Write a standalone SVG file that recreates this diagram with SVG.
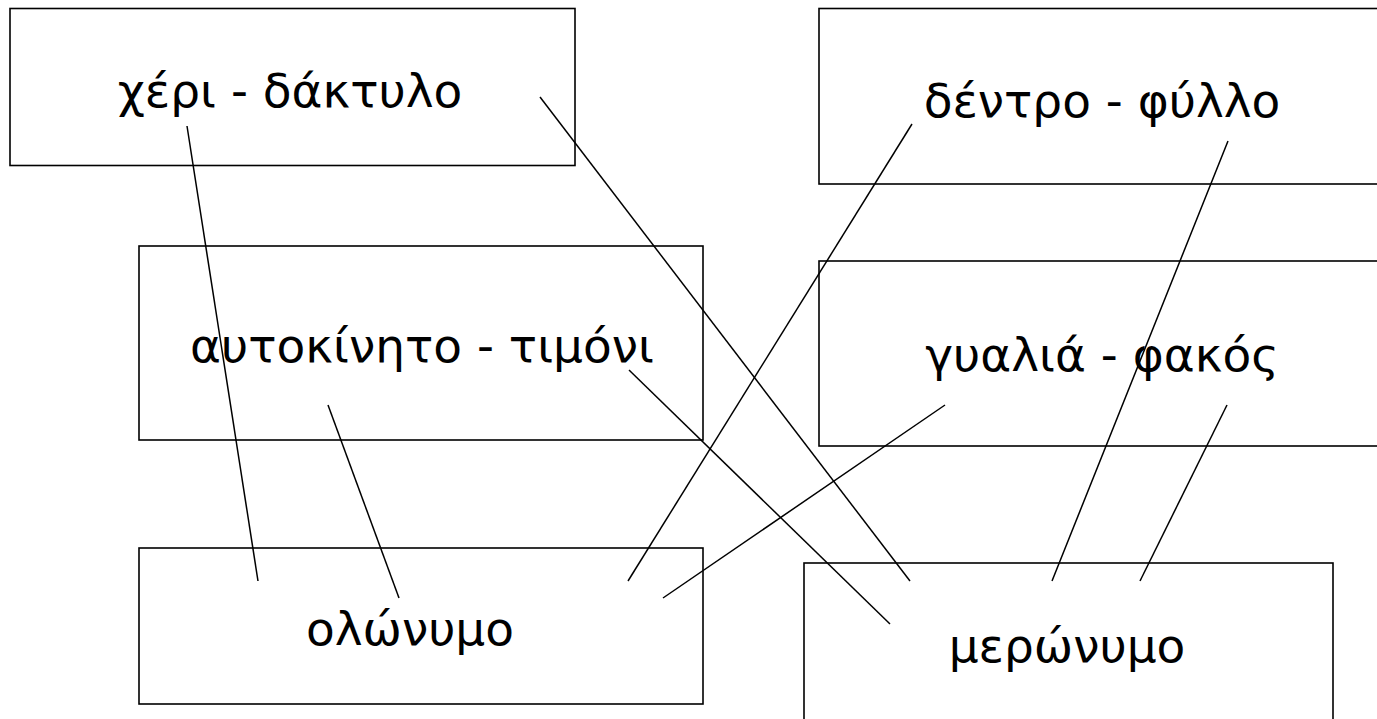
<svg xmlns="http://www.w3.org/2000/svg" width="1377" height="719" viewBox="0 0 1377 719">
<style>
.box{fill:#fff;stroke:#000;stroke-width:1.6}
.lbl{font-family:"DejaVu Sans",sans-serif;font-size:47px;fill:#000;text-anchor:middle}
.con line{stroke:#000;stroke-width:1.5}
</style>
<rect width="1377" height="719" fill="#fff"/>
<g id="n-xeri"><rect class="box" x="10" y="8.5" width="565" height="157"/><text class="lbl" x="290" y="107">χέρι - δάκτυλο</text></g>
<g id="n-dentro"><rect class="box" x="819" y="8.5" width="600" height="175.5"/><text class="lbl" x="1102" y="117">δέντρο - φύλλο</text></g>
<g id="n-autokinito"><rect class="box" x="139" y="246" width="564" height="194"/><text class="lbl" x="422" y="362">αυτοκίνητο - τιμόνι</text></g>
<g id="n-gyalia"><rect class="box" x="819" y="261" width="600" height="185"/><text class="lbl" x="1102" y="371">γυαλιά - φακός</text></g>
<g id="n-olonymo"><rect class="box" x="139" y="548" width="564" height="156"/><text class="lbl" x="410" y="645">ολώνυμο</text></g>
<g id="n-meronymo"><rect class="box" x="804" y="563" width="529" height="200"/><text class="lbl" x="1067" y="662">μερώνυμο</text></g>
<g id="connectors" class="con">
<line x1="187" y1="126" x2="258" y2="581"/>
<line x1="540" y1="97" x2="910" y2="581"/>
<line x1="912" y1="124" x2="628" y2="581"/>
<line x1="1228" y1="141" x2="1052" y2="581"/>
<line x1="328" y1="405" x2="399" y2="598"/>
<line x1="629" y1="370" x2="890" y2="624"/>
<line x1="945" y1="405" x2="663" y2="598"/>
<line x1="1227" y1="405" x2="1140" y2="581"/>
</g>
</svg>
